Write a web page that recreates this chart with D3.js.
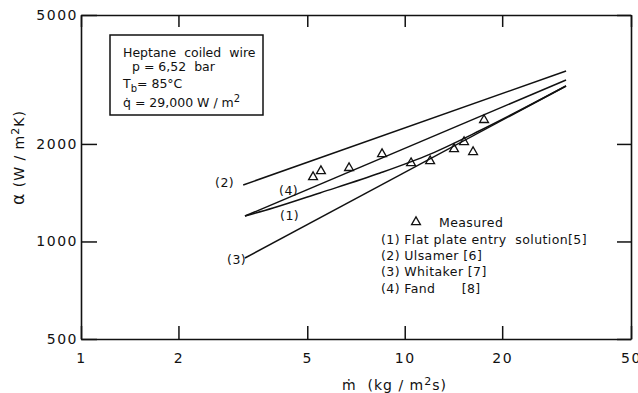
<!DOCTYPE html>
<html>
<head>
<meta charset="utf-8">
<script src="https://cdn.jsdelivr.net/npm/d3@7"></script>
<style>
  body { margin: 0; background: #fff; }
  svg { font-family: "DejaVu Sans", sans-serif; }
  text { white-space: pre; fill: #111; }
</style>
</head>
<body>
<svg id="chart" width="638" height="393"></svg>
<script>
// tick values
var xTicks = [1, 2, 5, 10, 20, 50];
var yTicks = [500, 1000, 2000, 5000];

// measured points, m-dot (kg/m2s) vs alpha (W/m2K)
var measuredX = [5.21, 5.51, 6.73, 8.51, 10.46, 11.98, 14.2, 15.25, 16.26, 17.58];
var measuredY = [1581, 1650, 1686, 1862, 1746, 1771, 1929, 2028, 1889, 2372];

// correlations
var flatX = [3.21, 3.92, 5.47, 8.39, 11.98, 17.09, 31.5];
var flatY = [1198, 1268, 1412, 1626, 1860, 2200, 3019];
var ulsamerX = [3.17, 31.5];
var ulsamerY = [1494, 3358];
var whitakerX = [3.21, 31.5];
var whitakerY = [889, 3019];
var fandX = [3.21, 31.5];
var fandY = [1198, 3151];

var legendLines = ["(1) Flat plate entry  solution[5]",
                   "(2) Ulsamer [6]",
                   "(3) Whitaker [7]",
                   "(4) Fand      [8]"];

var plotL = 81, plotR = 631, plotT = 15, plotB = 339;
var svg = d3.select('#chart');

var x = d3.scaleLog().domain([1, 50]).range([plotL, plotR]);
var y = d3.scaleLog().domain([500, 5000]).range([plotB, plotT]);

function styleAxis(g) {
    g.select('.domain').attr('stroke', '#111').attr('stroke-width', 1.6);
    g.selectAll('.tick line').attr('stroke', '#111').attr('stroke-width', 1.5);
    g.selectAll('.tick text').attr('font-size', 14).attr('fill', '#111')
        .attr('font-family', '"DejaVu Sans", sans-serif')
        .style('letter-spacing', '1.5px');
}

// frame + axes
svg.append('g')
    .attr('transform', 'translate(0,' + plotB + ')')
    .call(d3.axisBottom(x).tickValues(xTicks).tickFormat(d3.format('d'))
        .tickSizeInner(-13).tickSizeOuter(0).tickPadding(14))
    .call(styleAxis);
svg.append('g')
    .attr('transform', 'translate(0,' + plotT + ')')
    .call(d3.axisTop(x).tickValues(xTicks).tickFormat('')
        .tickSizeInner(-12).tickSizeOuter(0))
    .call(styleAxis);
svg.append('g')
    .attr('transform', 'translate(' + plotL + ',0)')
    .call(d3.axisLeft(y).tickValues(yTicks).tickFormat(d3.format('d'))
        .tickSizeInner(-16).tickSizeOuter(0).tickPadding(3))
    .call(styleAxis);
svg.append('g')
    .attr('transform', 'translate(' + plotR + ',0)')
    .call(d3.axisRight(y).tickValues(yTicks).tickFormat('')
        .tickSizeInner(-14).tickSizeOuter(0))
    .call(styleAxis);

// curves
var line = d3.line()
    .x(function(d) { return x(d[0]); })
    .y(function(d) { return y(d[1]); });

function drawSeries(xs, ys, curve) {
    svg.append('path')
        .datum(d3.zip(xs, ys))
        .attr('d', line.curve(curve || d3.curveLinear))
        .attr('fill', 'none')
        .attr('stroke', '#111')
        .attr('stroke-width', 1.5);
}
drawSeries(ulsamerX, ulsamerY);
drawSeries(fandX, fandY);
drawSeries(whitakerX, whitakerY);
drawSeries(flatX, flatY, d3.curveMonotoneX);

// measured triangles
var tri = d3.symbol().type(d3.symbolTriangle).size(34);
svg.selectAll('.pt')
    .data(d3.zip(measuredX, measuredY))
    .enter().append('path')
    .attr('class', 'pt')
    .attr('d', tri)
    .attr('transform', function(d) { return 'translate(' + x(d[0]) + ',' + y(d[1]) + ')'; })
    .attr('fill', 'none').attr('stroke', '#111').attr('stroke-width', 1.3);

// curve labels
var lbl = svg.append('g').attr('font-size', 12.5).style('letter-spacing', '0.5px');
lbl.append('text').attr('x', 215).attr('y', 187).text('(2)');
lbl.append('text').attr('x', 279).attr('y', 195).text('(4)');
lbl.append('text').attr('x', 280).attr('y', 220).text('(1)');
lbl.append('text').attr('x', 227).attr('y', 264).text('(3)');

// info box
svg.append('rect').attr('x', 110).attr('y', 35).attr('width', 153).attr('height', 80)
    .attr('fill', 'none').attr('stroke', '#111').attr('stroke-width', 1.5);
var info = svg.append('g').attr('font-size', 12.5).style('letter-spacing', '0px');
info.append('text').attr('x', 123).attr('y', 57).text('Heptane  coiled  wire');
info.append('text').attr('x', 132).attr('y', 71).text('p = 6,52  bar');
var tb = info.append('text').attr('x', 123).attr('y', 88);
tb.append('tspan').text('T');
tb.append('tspan').attr('dy', 4).attr('font-size', 10).text('b');
tb.append('tspan').attr('dy', -4).text('= 85\u00b0C');
var qt = info.append('text').attr('x', 123).attr('y', 107);
qt.append('tspan').text('q\u0307 = 29,000 W / m');
qt.append('tspan').attr('dy', -5).attr('font-size', 10).text('2');

// legend
var leg = svg.append('g').attr('font-size', 12.5).style('letter-spacing', '0.4px');
leg.append('path').attr('d', tri)
    .attr('transform', 'translate(416,222)')
    .attr('fill', 'none').attr('stroke', '#111').attr('stroke-width', 1.3);
leg.append('text').attr('x', 439).attr('y', 227).text('Measured');
leg.selectAll('.lg').data(legendLines).enter().append('text')
    .attr('class', 'lg')
    .attr('x', 381)
    .attr('y', function(d, i) { return 244 + i * 16.2; })
    .text(function(d) { return d; });

// axis titles
var xt = svg.append('text').attr('x', 342).attr('y', 390).attr('font-size', 14)
    .style('letter-spacing', '1px');
xt.append('tspan').text('\u1e41  (kg / m');
xt.append('tspan').attr('dy', -5).attr('font-size', 11).text('2');
xt.append('tspan').attr('dy', 5).text('s)');

var yt = svg.append('text').attr('transform', 'translate(24,205) rotate(-90)')
    .attr('font-size', 14).style('letter-spacing', '1px');
yt.append('tspan').attr('font-size', 17).text('\u03b1');
yt.append('tspan').text(' (W / m');
yt.append('tspan').attr('dy', -5).attr('font-size', 11).text('2');
yt.append('tspan').attr('dy', 5).text('K)');
</script>
</body>
</html>
